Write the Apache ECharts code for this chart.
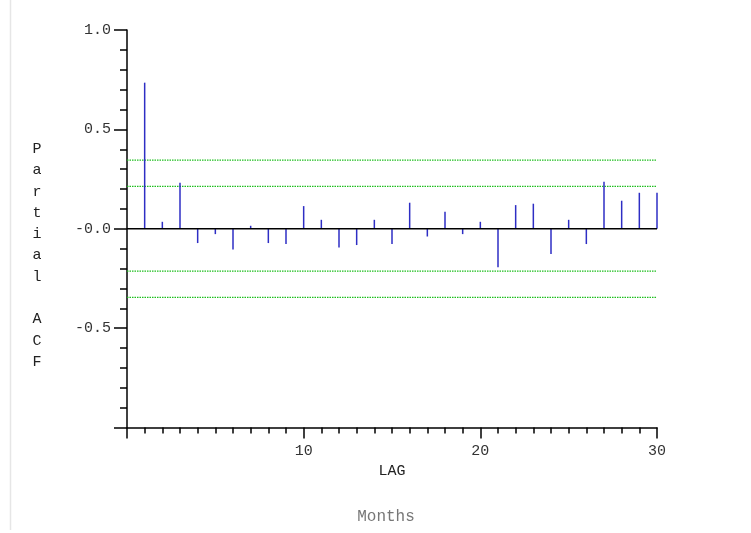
<!DOCTYPE html>
<html>
<head>
<meta charset="utf-8">
<script src="https://cdn.jsdelivr.net/npm/echarts@6/dist/echarts.min.js"></script>
<style>
  html, body { margin: 0; padding: 0; background: #fff; }
  #chart { width: 751px; height: 533px; }
</style>
</head>
<body>
<div id="chart"></div>
<script>
// partial autocorrelation by lag (months)
var lags = [1, 2, 3, 4, 5, 6, 7, 8, 9, 10, 11, 12, 13, 14, 15, 16, 17, 18, 19, 20, 21, 22, 23, 24, 25, 26, 27, 28, 29, 30]
var pacf = [0.735, 0.035, 0.231, -0.072, -0.027, -0.105, 0.015, -0.072, -0.077, 0.114,
  0.045, -0.094, -0.082, 0.045, -0.077, 0.131, -0.039, 0.085, -0.027, 0.035,
  -0.194, 0.119, 0.126, -0.127, 0.045, -0.077, 0.236, 0.141, 0.181, 0.181]
// confidence bands
var bands = [0.345, 0.213, -0.213, -0.345]
var lagRange = [0, 30]

var font = 'Liberation Mono'

var chart = echarts.init(document.getElementById('chart'), null, { renderer: 'canvas' })

var bandSeries = bands.map(function(b) {
  return {
    type: 'line',
    silent: true,
    showSymbol: false,
    z: 1,
    lineStyle: { color: '#1fbf1f', type: [1.5, 1], width: 1.2 },
    data: lagRange.map(function(x) { return [x, b] })
  }
})

chart.setOption({
  animation: false,
  grid: {
    left: 127,
    top: 30,
    right: 94,
    bottom: 105.5
  },
  xAxis: {
    type: 'value',
    min: 0,
    max: 30,
    interval: 10,
    name: 'LAG',
    nameLocation: 'middle',
    nameGap: 29,
    nameTextStyle: { fontFamily: font, fontSize: 15, color: '#222' },
    axisLine: { onZero: false, lineStyle: { color: '#000', width: 1.5 } },
    axisTick: { length: 11, lineStyle: { color: '#000', width: 1.5 } },
    minorTick: { show: true, splitNumber: 10, length: 6, lineStyle: { color: '#000', width: 1.5 } },
    axisLabel: {
      margin: 16,
      fontFamily: font,
      fontSize: 15,
      color: '#333',
      formatter: function(v) { return v === 0 ? '' : String(v) }
    },
    splitLine: { show: false }
  },
  yAxis: {
    type: 'value',
    min: -1,
    max: 1,
    interval: 0.5,
    axisLine: { show: true, onZero: false, lineStyle: { color: '#000', width: 1.5 } },
    axisTick: { show: true, length: 13, lineStyle: { color: '#000', width: 1.5 } },
    minorTick: { show: true, splitNumber: 5, length: 7, lineStyle: { color: '#000', width: 1.5 } },
    axisLabel: {
      margin: 16,
      fontFamily: font,
      fontSize: 15,
      color: '#333',
      formatter: function(v) {
        if (v === -1) return ''
        if (v === 0) return '-0.0'
        return v.toFixed(1)
      }
    },
    splitLine: { show: false }
  },
  graphic: [
    {
      type: 'line',
      shape: { x1: 10.5, y1: 0, x2: 10.5, y2: 530 },
      style: { stroke: '#e6e6e6', lineWidth: 1.5 }
    },
    {
      type: 'text',
      x: 37,
      y: 255.5,
      style: {
        text: 'P\na\nr\nt\ni\na\nl\n \nA\nC\nF',
        fontFamily: font,
        fontSize: 15,
        lineHeight: 21.3,
        fill: '#222',
        textAlign: 'center',
        textVerticalAlign: 'middle'
      }
    },
    {
      type: 'text',
      x: 386,
      y: 517,
      style: {
        text: 'Months',
        fontFamily: font,
        fontSize: 16,
        fill: '#777',
        textAlign: 'center',
        textVerticalAlign: 'middle'
      }
    }
  ],
  series: bandSeries.concat([
    {
      type: 'bar',
      barWidth: 1.5,
      z: 3,
      itemStyle: { color: '#2e2ec4' },
      data: lags.map(function(l, i) { return [l, pacf[i]] })
    },
    {
      // zero reference line
      type: 'line',
      silent: true,
      showSymbol: false,
      z: 4,
      lineStyle: { color: '#000', width: 1.5 },
      data: lagRange.map(function(x) { return [x, 0] })
    }
  ])
})
</script>
</body>
</html>
